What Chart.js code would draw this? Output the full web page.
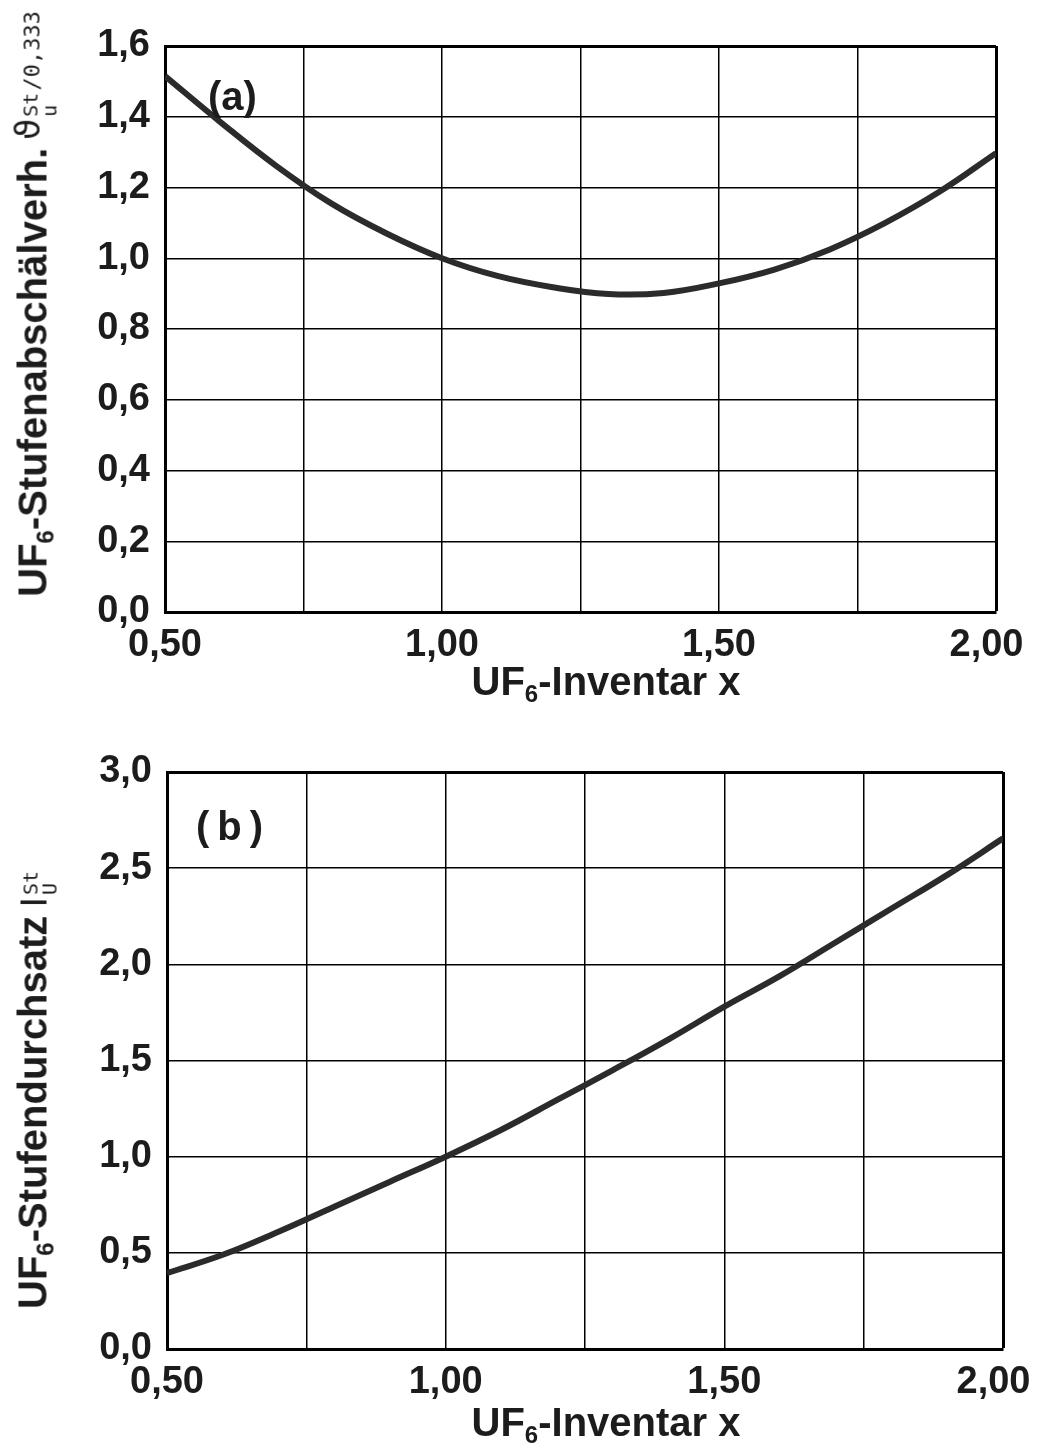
<!DOCTYPE html>
<html lang="de">
<head>
<meta charset="UTF-8">
<title>UF6-Stufenabschälverhältnis und Stufendurchsatz</title>
<script src="https://cdn.jsdelivr.net/npm/chart.js@4"></script>
<style>
    * { margin: 0; padding: 0; box-sizing: border-box; }

    body {
        background: #fff;
        width: 1037px;
        height: 1445px;
        overflow: hidden;
        font-family: 'Liberation Sans', Arial, sans-serif;
        color: #1c1c1c;
    }

    .page { position: relative; width: 1037px; height: 1445px; }

    canvas { position: absolute; left: 0; }
    #chartA { top: 0; }
    #chartB { top: 720px; }

    /* Axis titles and panel letters as plain text */
    .label { position: absolute; font-weight: bold; white-space: nowrap; line-height: 1; }
    .xtitle { font-size: 40px; transform: translateX(-50%); }
    .ytitle { font-size: 40px; transform: translate(-50%, -50%) rotate(-90deg); }
    .panel { font-size: 40px; }
    sub { font-size: 0.6em; vertical-align: -0.3em; }

    /* formula symbols next to the y titles: thin typewriter style */
    .sym { font-weight: normal; font-family: 'DejaVu Sans Mono', monospace; font-size: 22px; margin-left: 8px; }
    .sym .big { font-family: 'DejaVu Sans', sans-serif; font-size: 34px; }
    .sym .bigI { font-family: 'DejaVu Sans', sans-serif; font-size: 36px; }
    .stack {
        display: inline-flex;
        flex-direction: column;
        vertical-align: middle;
        font-size: 20px;
        line-height: 0.95;
        margin: 0 2px;
    }
    .raise { position: relative; top: -7px; }
</style>
</head>
<body>
<div class="page">
    <canvas id="chartA" width="1037" height="720"></canvas>
    <canvas id="chartB" width="1037" height="725"></canvas>

    <div class="label panel" style="left:208px; top:76px;">(a)</div>
    <div class="label panel" style="left:196px; top:806px;">(&#8201;b&#8201;)</div>

    <div class="label xtitle" style="left:606px; top:661px;">UF<sub>6</sub>-Inventar x</div>
    <div class="label xtitle" style="left:606px; top:1402px;">UF<sub>6</sub>-Inventar x</div>

    <div class="label ytitle" style="left:36px; top:304px;">UF<sub>6</sub>-Stufenabschälverh.<span class="sym"><span class="big raise">ϑ</span><span class="stack"><span>St</span><span>u</span></span><span class="raise">/0,333</span></span></div>
    <div class="label ytitle" style="left:36px; top:1089px;">UF<sub>6</sub>-Stufendurchsatz<span class="sym"><span class="bigI">I</span><span class="stack"><span>St</span><span>U</span></span></span></div>
</div>

<script>
    // (a) UF6 stage cut ratio vs. UF6 inventory x
    const inventarA = [0.5, 0.6, 0.7, 0.8, 0.9, 1.0, 1.1, 1.2, 1.3, 1.4, 1.5, 1.6, 1.7, 1.8, 1.9, 2.0];
    const abschaelA = [1.515, 1.385, 1.262, 1.155, 1.07, 1.0, 0.95, 0.918, 0.899, 0.902, 0.929, 0.968, 1.025, 1.10, 1.19, 1.297];

    // (b) UF6 stage throughput vs. UF6 inventory x
    const inventarB = [0.5, 0.6, 0.7, 0.8, 0.9, 1.0, 1.1, 1.2, 1.3, 1.4, 1.5, 1.6, 1.7, 1.8, 1.9, 2.0];
    const durchsatzB = [0.395, 0.49, 0.61, 0.74, 0.87, 1.0, 1.14, 1.295, 1.45, 1.61, 1.78, 1.94, 2.115, 2.29, 2.465, 2.655];

    const comma = (v, d) => v.toFixed(d).replace('.', ',');

    function makeChart(id, xs, ys, yMax, yStep, box) {
        const ctx = document.getElementById(id).getContext('2d');
        return new Chart(ctx, {
            type: 'line',
            data: {
                datasets: [{
                    data: xs.map((x, i) => ({ x: x, y: ys[i] })),
                    borderColor: '#2b2b2b',
                    borderWidth: 6,
                    pointRadius: 0,
                    tension: 0.4,
                    fill: false
                }]
            },
            options: {
                responsive: false,
                maintainAspectRatio: false,
                animation: false,
                devicePixelRatio: 1,
                layout: { padding: { left: 0, top: box.top, right: box.right, bottom: 0 } },
                plugins: {
                    legend: { display: false },
                    tooltip: { enabled: false }
                },
                scales: {
                    x: {
                        type: 'linear',
                        min: 0.5,
                        max: 2.0,
                        afterFit: s => {
                            s.height = box.xHeight;
                            s.paddingLeft = 0;
                            s.paddingRight = 0;
                        },
                        border: { display: true, color: '#000', width: 3 },
                        grid: {
                            color: '#000',
                            drawTicks: false,
                            lineWidth: c => (c.tick && c.tick.value >= 2.0 ? 3 : 1.5)
                        },
                        ticks: {
                            stepSize: 0.25,
                            autoSkip: false,
                            maxRotation: 0,
                            minRotation: 0,
                            padding: 11,
                            color: '#1c1c1c',
                            font: { family: "'Liberation Sans', Arial, sans-serif", size: 38, weight: 'bold' },
                            callback: v => {
                                if (Math.abs(v * 2 - Math.round(v * 2)) > 1e-6) return '';
                                // the last label sits a little inside the right edge
                                return v >= 2.0 ? comma(v, 2) + '\u2002' : comma(v, 2);
                            }
                        }
                    },
                    y: {
                        type: 'linear',
                        min: 0,
                        max: yMax,
                        afterFit: s => { s.width = box.yWidth; },
                        border: { display: true, color: '#000', width: 3 },
                        grid: {
                            color: '#000',
                            drawTicks: false,
                            lineWidth: c => (c.tick && c.tick.value >= yMax - 1e-6 ? 3 : 1.5)
                        },
                        ticks: {
                            stepSize: yStep,
                            autoSkip: false,
                            padding: 15,
                            color: '#1c1c1c',
                            font: { family: "'Liberation Sans', Arial, sans-serif", size: 38, weight: 'bold' },
                            callback: v => comma(v, 1)
                        }
                    }
                }
            }
        });
    }

    makeChart('chartA', inventarA, abschaelA, 1.6, 0.2, { top: 46, right: 41, yWidth: 165, xHeight: 108 });
    makeChart('chartB', inventarB, durchsatzB, 3.0, 0.5, { top: 52, right: 34, yWidth: 167, xHeight: 96 });
</script>
</body>
</html>
